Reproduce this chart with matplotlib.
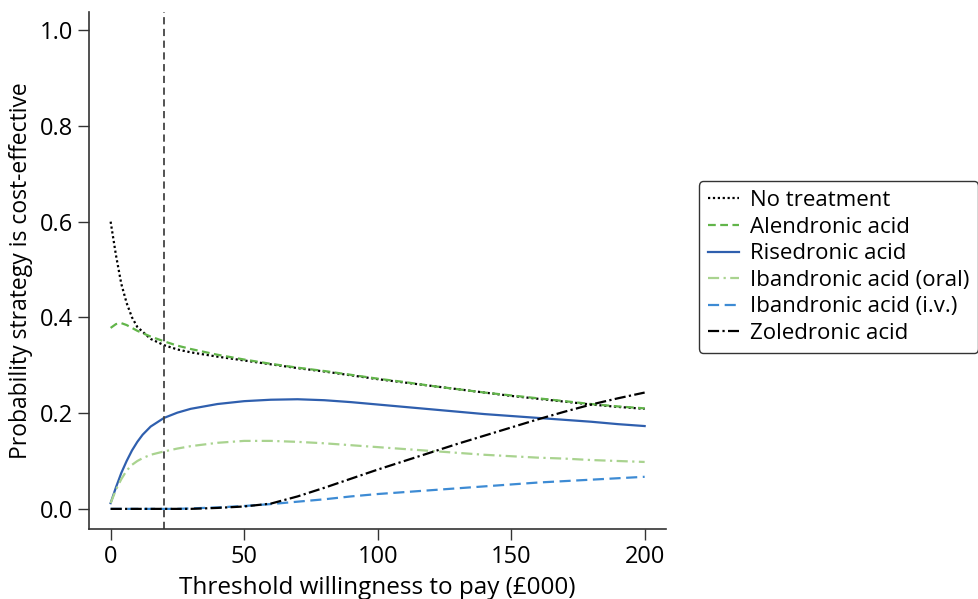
import matplotlib
matplotlib.use("Agg")
import matplotlib.pyplot as plt

x = [0, 2, 4, 6, 8, 10, 12, 15, 20, 25, 30, 40, 50, 60, 70, 80, 90, 100,
     110, 120, 130, 140, 150, 160, 170, 180, 190, 200]

no_treatment = [0.600, 0.530, 0.470, 0.430, 0.400, 0.380, 0.370, 0.355, 0.342, 0.333,
                0.327, 0.318, 0.310, 0.302, 0.294, 0.287, 0.279, 0.271, 0.264, 0.257,
                0.250, 0.243, 0.236, 0.230, 0.224, 0.218, 0.213, 0.209]
alendronic = [0.378, 0.386, 0.388, 0.384, 0.378, 0.372, 0.367, 0.360, 0.350, 0.341,
              0.334, 0.322, 0.312, 0.303, 0.295, 0.288, 0.280, 0.272, 0.265, 0.257,
              0.250, 0.243, 0.237, 0.231, 0.225, 0.219, 0.214, 0.210]
risedronic = [0.012, 0.045, 0.075, 0.100, 0.122, 0.140, 0.155, 0.172, 0.190, 0.201,
              0.209, 0.219, 0.225, 0.228, 0.229, 0.227, 0.223, 0.218, 0.213, 0.208,
              0.203, 0.198, 0.194, 0.190, 0.186, 0.182, 0.177, 0.173]
ibandronic_oral = [0.012, 0.040, 0.062, 0.080, 0.092, 0.100, 0.106, 0.113, 0.120, 0.126,
                   0.131, 0.138, 0.142, 0.142, 0.140, 0.137, 0.133, 0.129, 0.125, 0.121,
                   0.117, 0.113, 0.110, 0.107, 0.105, 0.102, 0.100, 0.098]
ibandronic_iv = [0.000, 0.000, 0.000, 0.000, 0.000, 0.000, 0.000, 0.000, 0.000, 0.000,
                 0.001, 0.003, 0.006, 0.010, 0.015, 0.020, 0.026, 0.031, 0.035, 0.039,
                 0.043, 0.047, 0.051, 0.055, 0.058, 0.061, 0.064, 0.067]
zoledronic = [0.000, 0.000, 0.000, 0.000, 0.000, 0.000, 0.000, 0.000, 0.000, 0.000,
              0.000, 0.002, 0.005, 0.011, 0.026, 0.044, 0.063, 0.082, 0.100, 0.118,
              0.136, 0.153, 0.170, 0.187, 0.203, 0.218, 0.231, 0.243]

threshold = 20
x_ticks = [0, 50, 100, 150, 200]
y_ticks = [0.0, 0.2, 0.4, 0.6, 0.8, 1.0]

plt.rcParams['font.family'] = ['Open Sans', 'DejaVu Sans']
plt.rcParams['font.size'] = 17

fig = plt.figure(figsize=(9.79, 5.99), dpi=100)
ax = fig.add_axes([0.0909, 0.1169, 0.5894, 0.8631])

lw = 1.6
ax.plot(x, no_treatment, color='black', linestyle=(0, (1, 1.2)), lw=lw, label='No treatment')
ax.plot(x, alendronic, color='#62b54a', linestyle=(0, (3.5, 2)), lw=lw, label='Alendronic acid')
ax.plot(x, risedronic, color='#2f5fae', linestyle='-', lw=lw, label='Risedronic acid')
ax.plot(x, ibandronic_oral, color='#a9d38f', linestyle=(0, (5, 2, 1, 2)), lw=lw, label='Ibandronic acid (oral)')
ax.plot(x, ibandronic_iv, color='#3d8bd4', linestyle=(0, (5, 2.5)), lw=lw, label='Ibandronic acid (i.v.)')
ax.plot(x, zoledronic, color='black', linestyle=(0, (5, 1.5, 1, 1.5)), lw=lw, label='Zoledronic acid')

ax.axvline(threshold, color='#444444', linestyle=(0, (4, 2.5)), lw=1.3)

ax.set_xlim(-8.1, 208)
ax.set_ylim(-0.042, 1.038)
ax.set_xticks(x_ticks)
ax.set_yticks(y_ticks)
ax.set_yticklabels([f"{v:.1f}" for v in y_ticks])
ax.spines['top'].set_visible(False)
ax.spines['right'].set_visible(False)
for s in ('left', 'bottom'):
    ax.spines[s].set_color('#333333')
    ax.spines[s].set_linewidth(1.2)
ax.tick_params(direction='out', length=8, width=1, colors='#333333', labelcolor='black', labelsize=17)

ax.set_xlabel('Threshold willingness to pay (£000)', fontsize=17.5, labelpad=5)
ax.set_ylabel('Probability strategy is cost-effective', fontsize=16.5, labelpad=5)

leg = fig.legend(loc='center left', bbox_to_anchor=(0.714, 0.554), frameon=True,
                 fontsize=16, handlelength=1.4, handletextpad=0.5, labelspacing=0.25,
                 borderpad=0.4, borderaxespad=0, fancybox=True)
leg.get_frame().set_edgecolor('black')
leg.get_frame().set_linewidth(1.0)

fig.savefig('out.png', dpi=100)
